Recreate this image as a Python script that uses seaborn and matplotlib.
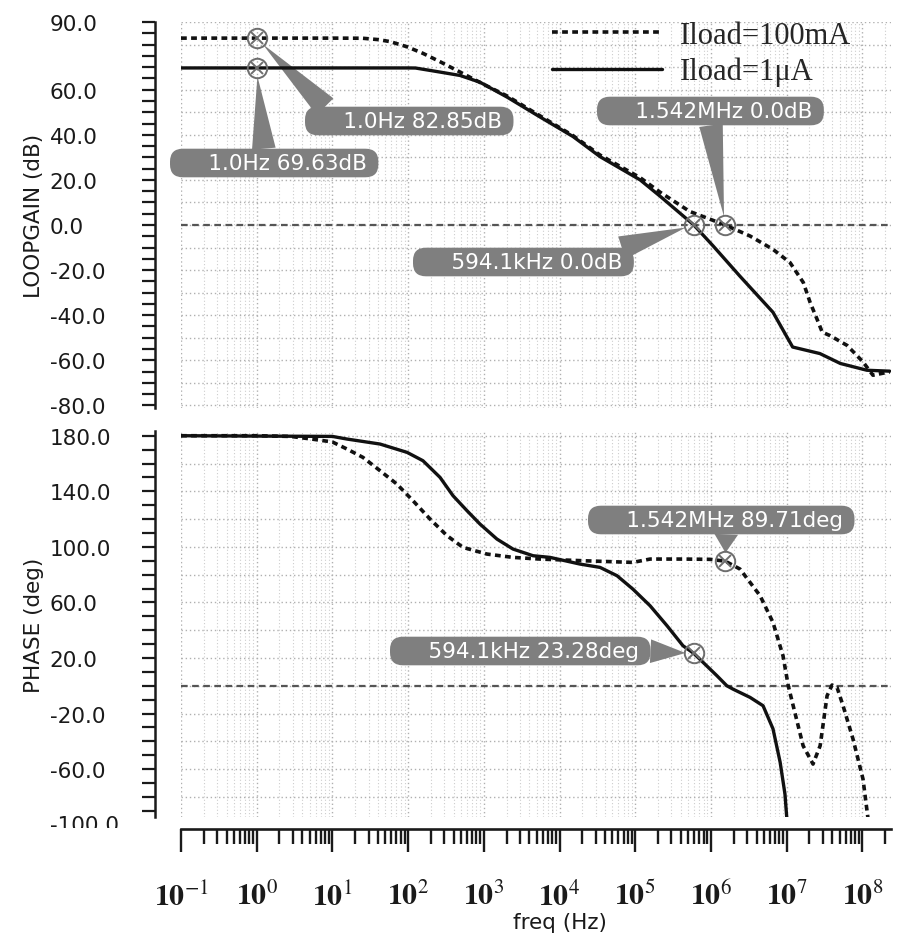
import numpy as np
import pandas as pd
import seaborn as sns
import matplotlib.pyplot as plt
from matplotlib.ticker import MultipleLocator, LogLocator, FuncFormatter, NullFormatter
from matplotlib.transforms import Bbox, TransformedBbox, blended_transform_factory

# ---- data ----
labels = ['Iload=100mA', 'Iload=1μA']

# loop gain (dB), Iload=100mA
gain_hi_freq = [0.1, 1.0, 10, 25, 40, 58, 97, 157, 264, 443, 720, 1.12e3, 2.03e3, 5.52e3,
                1.51e4, 3.43e4, 1.16e5, 2.14e5, 5.25e5, 1.542e6, 3.29e6, 6.6e6, 1.11e7,
                1.66e7, 2.04e7, 2.51e7, 2.95e7, 3.72e7, 6.3e7, 1.02e8, 1.38e8, 2.3e8]
gain_hi_db = [82.85, 82.85, 82.85, 82.8, 82.2, 81.3, 79.0, 76.1, 72.4, 68.5, 64.8, 61.5, 57.2,
              48.4, 39.6, 31.0, 21.0, 14.5, 6.0, 0.0, -4.9, -10.8, -16.7, -25.5, -34.3, -41.6,
              -47.5, -49.0, -53.4, -60.7, -66.6, -65.1]

# loop gain (dB), Iload=1uA
gain_lo_freq = [0.1, 1.0, 10, 100, 125, 264, 485, 890, 2.03e3, 5.52e3, 1.51e4, 3.43e4, 1.16e5,
                2.14e5, 5.941e5, 1.07e6, 2.4e6, 6.6e6, 1.2e7, 2.75e7, 5.13e7, 1.15e8, 2.3e8]
gain_lo_db = [69.63, 69.63, 69.63, 69.63, 69.6, 67.8, 66.3, 63.3, 56.7, 47.9, 39.2, 30.3, 20.0,
              12.7, 0.0, -9.3, -22.6, -38.7, -54.1, -57.0, -61.4, -64.4, -64.8]

# phase (deg), Iload=100mA
phase_hi_freq = [0.1, 1.0, 2.8, 5.5, 10, 15.6, 25.3, 42.6, 71, 116, 195, 327, 531, 1.1e3, 2.43e3,
                 5.52e3, 2.04e4, 9.3e4, 1.57e5, 4.27e5, 9.7e5, 1.542e6, 2.42e6, 4.46e6, 6.6e6,
                 8.95e6, 1.05e7, 1.22e7, 1.65e7, 2.23e7, 2.77e7, 3.42e7, 3.98e7, 4.63e7, 5.56e7,
                 7.53e7, 1.02e8, 1.19e8, 1.25e8]
phase_hi_deg = [180, 180, 179.5, 177.5, 175.5, 170.4, 164.4, 154.8, 145.2, 133.2, 120, 108, 99.6,
                94.8, 92.4, 91.2, 90.0, 88.8, 91.2, 91.2, 91.0, 89.71, 84, 64.8, 45.6, 21.6, 0,
                -14.4, -43.2, -56.4, -43.2, -7.2, 0.5, -1.2, -14.4, -38.4, -67.2, -96, -105]

# phase (deg), Iload=1uA
phase_lo_freq = [0.1, 10, 15.6, 42.6, 97, 157, 264, 392, 600, 890, 1.49e3, 2.43e3, 4.47e3,
                 7.5e3, 1.86e4, 3.43e4, 5.75e4, 9.3e4, 1.57e5, 2.63e5, 4.27e5, 5.941e5, 1.2e6,
                 1.62e6, 1.95e6, 3.29e6, 4.88e6, 6.6e6, 8.2e6, 9.5e6, 1.01e7, 1.03e7]
phase_lo_deg = [180, 179.5, 177.6, 174, 168, 162, 150, 136.8, 126, 116.4, 105.6, 98.4, 93.6,
                92.4, 87.6, 85.2, 79.2, 69.6, 57.6, 43.2, 28.8, 23.28, 7.2, 0, -2.4, -8.4,
                -14.4, -31, -55, -78, -97, -105]

# cursor markers
gain_mark_freq = [1.0, 1.0, 1.542e6, 594.1e3]
gain_mark_val = [82.85, 69.63, 0.0, 0.0]
phase_mark_freq = [1.542e6, 594.1e3]
phase_mark_val = [89.71, 23.28]

gain_tick_labels = [90, 60, 40, 20, 0, -20, -40, -60, -80]
phase_tick_labels = [180, 140, 100, 60, 20, -20, -60, -100]

# ---- style ----
sns.set_theme(style='white')
plt.rcParams['font.family'] = ['DejaVu Sans']
plt.rcParams['mathtext.fontset'] = 'stix'

W, H = 911, 937
fig = plt.figure(figsize=(W / 100, H / 100), dpi=100)


def px_axes(left, top, right, bottom):
    return fig.add_axes([left / W, 1 - bottom / H, (right - left) / W, (bottom - top) / H])


X0, X1 = 181, 891
xlim = (0.1, 2.39e8)
ax1 = px_axes(X0, 23, X1, 408.7)
ax2 = px_axes(X0, 432, X1, 818)
axx = px_axes(X0, 829.9, X1, 830)

ink = '#1a1a1a'
grid_major = dict(color='#b0b0b0', linestyle=(0, (1, 2)), linewidth=1.0)
grid_minor = dict(color='#cdcdcd', linestyle=(0, (1, 2)), linewidth=0.8)


def fmt_freq(f):
    if f >= 1e6:
        return f'{f / 1e6:.3f}MHz'
    if f >= 1e3:
        return f'{f / 1e3:.1f}kHz'
    return f'{f:.1f}Hz'


def style_panel(ax, ylim, major, minor, shown, ylabel):
    ax.set_xscale('log')
    ax.set_xlim(*xlim)
    ax.set_ylim(*ylim)
    ax.xaxis.set_major_locator(LogLocator(base=10, numticks=30))
    ax.xaxis.set_minor_locator(LogLocator(base=10, subs=np.arange(2, 10), numticks=30))
    ax.xaxis.set_minor_formatter(NullFormatter())
    ax.tick_params(axis='x', which='both', length=0, labelbottom=False)
    ax.yaxis.set_major_locator(MultipleLocator(major))
    ax.yaxis.set_minor_locator(MultipleLocator(minor))
    ax.yaxis.set_major_formatter(FuncFormatter(lambda v, p: f'{v:.1f}' if round(v) in shown else ''))
    ax.tick_params(axis='y', which='both', direction='out', left=True, length=9.5, width=1.6,
                   color=ink, pad=66, labelsize=15.5, labelcolor=ink)
    ax.grid(True, which='major', axis='both', **grid_major)
    ax.grid(True, which='minor', axis='x', **grid_minor)
    for s in ['top', 'right', 'bottom']:
        ax.spines[s].set_visible(False)
    ax.spines['left'].set_position(('outward', 19))
    ax.spines['left'].set_linewidth(1.8)
    ax.spines['left'].set_color(ink)
    ax.set_facecolor('none')
    ax.set_ylabel(ylabel, fontsize=15.5, color=ink)
    ax.yaxis.set_label_coords(-0.193, 0.5)
    ax.axhline(0, color='#555555', linewidth=1.6, linestyle=(0, (3, 2)), zorder=1.5)


style_panel(ax1, (-81, 90), 10, 5, gain_tick_labels, 'LOOPGAIN (dB)')
style_panel(ax2, (-94.5, 183.4), 20, 10, phase_tick_labels, 'PHASE (deg)')

hi_style = dict(color='#111111', linewidth=2.6, linestyle=(0, (1.6, 1.2)), zorder=3)
lo_style = dict(color='#111111', linewidth=2.4, linestyle='-', zorder=3)

sns.lineplot(x=gain_hi_freq, y=gain_hi_db, ax=ax1, label=labels[0], **hi_style)
sns.lineplot(x=gain_lo_freq, y=gain_lo_db, ax=ax1, label=labels[1], **lo_style)
sns.lineplot(x=phase_hi_freq, y=phase_hi_deg, ax=ax2, legend=False, **hi_style)
sns.lineplot(x=phase_lo_freq, y=phase_lo_deg, ax=ax2, legend=False, **lo_style)
for ax in (ax1, ax2):
    if ax.get_legend() is not None:
        ax.get_legend().remove()
    for lab in ax.get_yticklabels():
        lab.set_horizontalalignment('left')

# cursor markers
for ax, fr, vals in ((ax1, gain_mark_freq, gain_mark_val), (ax2, phase_mark_freq, phase_mark_val)):
    ax.plot(fr, vals, linestyle='none', marker='o', markersize=14, mfc='none',
            mec='#6e6e6e', mew=1.4, zorder=4)
    ax.plot(fr, vals, linestyle='none', marker='x', markersize=8,
            mec='#6e6e6e', mew=1.4, zorder=4)

# callouts: (box left px, box centre y px from top, arrow attach point on box)
box_grey = '#7f7f7f'
box_pad = 0.2
pad_px = box_pad * 15.5 * 100 / 72
gain_boxes = [(305, 122, (0.1, 1.0)), (170, 164, (0.45, 1.0)),
              (597, 112, (0.5, 0.0)), (413, 263, (0.9, 1.0))]
phase_boxes = [(588, 521, (0.52, 0.0)), (390, 652, (1.0, 0.5))]
for ax, fr, vals, unit, boxes in ((ax1, gain_mark_freq, gain_mark_val, 'dB', gain_boxes),
                                  (ax2, phase_mark_freq, phase_mark_val, 'deg', phase_boxes)):
    for f, v, (bx, by, rel) in zip(fr, vals, boxes):
        ax.annotate('     ' + f'{fmt_freq(f)} {v}{unit}' + ' ', xy=(f, v),
                    xytext=(bx + pad_px, H - by), textcoords='figure pixels',
                    ha='left', va='center', fontsize=15.5, color='white', zorder=2,
                    bbox=dict(boxstyle=f'round,pad={box_pad},rounding_size=0.6', fc=box_grey, ec='none'),
                    arrowprops=dict(arrowstyle='wedge,tail_width=1.1,shrink_factor=0.5',
                                    fc=box_grey, ec='none', relpos=rel, shrinkA=0, shrinkB=6))

# clipped "-100.0" label sitting under the frequency axis
t = ax2.text(50 / W, -100, '-100.0', transform=blended_transform_factory(fig.transFigure, ax2.transData),
             ha='left', va='center', fontsize=15.5, color=ink)
t.set_clip_on(True)
t.set_clip_box(TransformedBbox(Bbox.from_extents(0, (H - 829) / H, 1, 1), fig.transFigure))

# frequency axis
axx.set_xscale('log')
axx.set_xlim(*xlim)
axx.set_yticks([])
for s in ['top', 'right', 'left']:
    axx.spines[s].set_visible(False)
axx.spines['bottom'].set_linewidth(1.9)
axx.spines['bottom'].set_color(ink)
axx.set_facecolor('none')
axx.xaxis.set_major_locator(LogLocator(base=10, numticks=30))
axx.xaxis.set_minor_locator(LogLocator(base=10, subs=np.arange(2, 10), numticks=30))
axx.xaxis.set_minor_formatter(NullFormatter())
axx.xaxis.set_major_formatter(FuncFormatter(lambda v, p: r'$\mathbf{10}^{%d}$' % round(np.log10(v))))
axx.tick_params(axis='x', which='major', bottom=True, direction='out', length=16.5, width=1.7,
                color=ink, pad=21, labelsize=21.5, labelcolor=ink)
axx.tick_params(axis='x', which='minor', bottom=True, direction='out', length=11, width=1.7, color=ink)
fig.text(560 / W, 1 - 929 / H, 'freq (Hz)', ha='center', va='baseline', fontsize=15.5, color=ink)

# legend
h, l = ax1.get_legend_handles_labels()
fig.legend(h, l, loc='upper left', bbox_to_anchor=(552 / W, 1 - 22 / H), frameon=False,
           borderpad=0, borderaxespad=0, handlelength=3.6, handletextpad=0.6,
           labelspacing=0.22, prop={'family': 'Liberation Serif', 'size': 22})

fig.savefig('out.png', dpi=100, facecolor='white')
